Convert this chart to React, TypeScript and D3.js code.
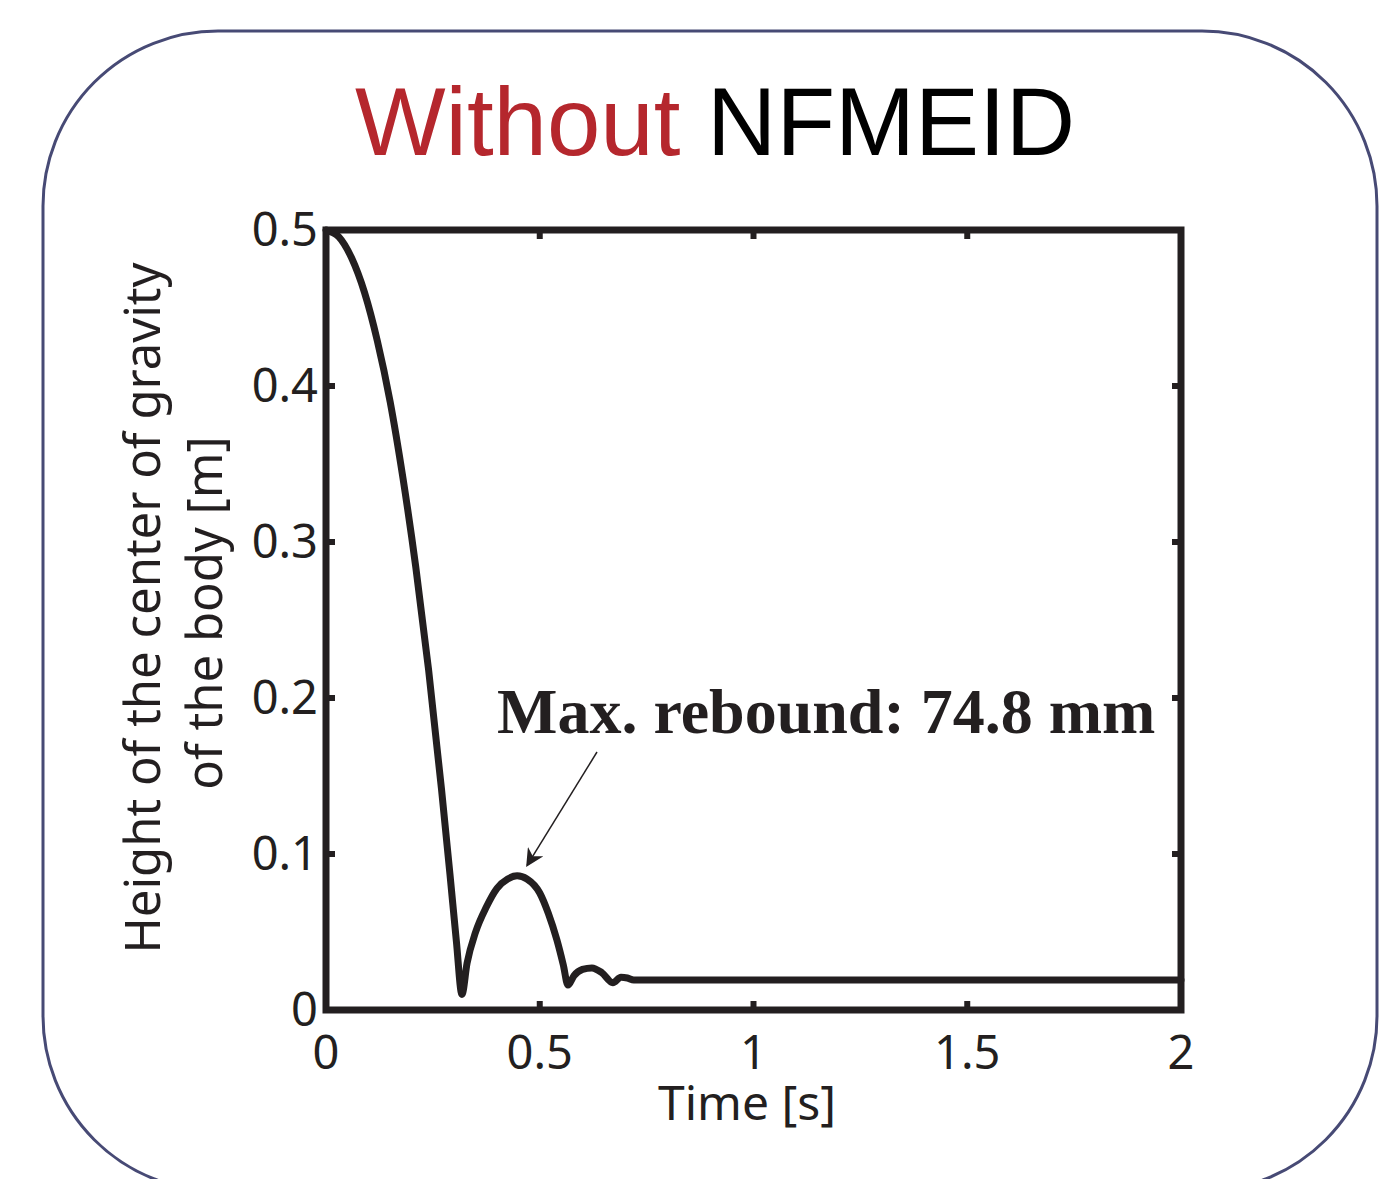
import React from "react";
import * as d3 from "d3";

const timeS = [0, 0.03, 0.06, 0.09, 0.12, 0.15, 0.18, 0.21, 0.24, 0.27, 0.29, 0.305, 0.318, 0.33, 0.35, 0.375, 0.4, 0.425, 0.447, 0.47, 0.5, 0.52, 0.54, 0.555, 0.566, 0.58, 0.6, 0.622, 0.645, 0.671, 0.69, 0.705, 0.72, 0.75, 1.0, 1.5, 2.0];
const heightM = [0.5, 0.4956, 0.482, 0.46, 0.429, 0.39, 0.341, 0.284, 0.218, 0.142, 0.087, 0.044, 0.01, 0.03, 0.05, 0.066, 0.078, 0.084, 0.086, 0.084, 0.075, 0.062, 0.045, 0.029, 0.016, 0.022, 0.026, 0.027, 0.024, 0.0175, 0.021, 0.0205, 0.0192, 0.0192, 0.0192, 0.0192, 0.0192];
const xTicks = [0, 0.5, 1, 1.5, 2];
const xTickLabels = ["0", "0.5", "1", "1.5", "2"];
const yTicks = [0, 0.1, 0.2, 0.3, 0.4, 0.5];
const yTickLabels = ["0", "0.1", "0.2", "0.3", "0.4", "0.5"];
const titleParts = ["Without", "NFMEID"];
const annotation = "Max. rebound: 74.8 mm";
const annotationPoint = { t: 0.447, h: 0.085 };
const xLabel = "Time [s]";
const yLabelLines = ["Height of the center of gravity", "of the body [m]"];

const INK = "#231f20";
const TICKFONT = "'Noto Sans', 'Open Sans', sans-serif";

export default function App() {
  const L = 326, R = 1181, T = 230, B = 1010;
  const x = d3.scaleLinear().domain([0, 2]).range([L, R]);
  const y = d3.scaleLinear().domain([0, 0.5]).range([B, T]);
  const pts = timeS.map((t, i) => [t, heightM[i]] as [number, number]);
  const line = d3.line<[number, number]>().x(d => x(d[0])).y(d => y(d[1])).curve(d3.curveMonotoneX);
  const tickLen = 9;

  const ax2 = x(annotationPoint.t) + 10, ay2 = y(annotationPoint.h) - 12;
  const ax1 = 597, ay1 = 752;

  return (
    <svg width={1400} height={1179} style={{ position: "absolute", left: 0, top: 0, background: "#fff" }}>
      <defs>
        <marker id="arr" viewBox="0 0 10 10" refX="9" refY="5" markerWidth="18" markerHeight="18" markerUnits="userSpaceOnUse" orient="auto">
          <path d="M0,0 L10,5 L0,10 L3,5 Z" fill={INK} />
        </marker>
      </defs>
      <rect x={43} y={31} width={1334} height={1160} rx={175} ry={175} fill="none" stroke="#474a75" strokeWidth={3} />
      <text x={715} y={155} textAnchor="middle" fontFamily="'Liberation Sans', Arial, sans-serif" fontSize={96}>
        <tspan fill="#b5272d">{titleParts[0]}</tspan>
        <tspan fill="#000"> {titleParts[1]}</tspan>
      </text>

      {xTicks.map((t, i) => (
        <g key={"xt" + i}>
          <line x1={x(t)} x2={x(t)} y1={B} y2={B - tickLen} stroke={INK} strokeWidth={6} />
          <line x1={x(t)} x2={x(t)} y1={T} y2={T + tickLen} stroke={INK} strokeWidth={6} />
          <text x={x(t)} y={1069} textAnchor="middle" fontFamily={TICKFONT} fontSize={47} fill={INK}>{xTickLabels[i]}</text>
        </g>
      ))}
      {yTicks.map((v, i) => (
        <g key={"yt" + i}>
          <line x1={L} x2={L + tickLen} y1={y(v)} y2={y(v)} stroke={INK} strokeWidth={6} />
          <line x1={R} x2={R - tickLen} y1={y(v)} y2={y(v)} stroke={INK} strokeWidth={6} />
          <text x={318} y={y(v) + 16} textAnchor="end" fontFamily={TICKFONT} fontSize={47} fill={INK}>{yTickLabels[i]}</text>
        </g>
      ))}

      <path d={line(pts) || ""} fill="none" stroke={INK} strokeWidth={7} strokeLinejoin="round" strokeLinecap="round" />
      <rect x={L} y={T} width={R - L} height={B - T} fill="none" stroke={INK} strokeWidth={7} />

      <text x={747} y={1120} textAnchor="middle" fontFamily={TICKFONT} fontSize={48} fill={INK}>{xLabel}</text>
      <text transform={`translate(160,608) rotate(-90)`} textAnchor="middle" fontFamily={TICKFONT} fontSize={49} fill={INK}>{yLabelLines[0]}</text>
      <text transform={`translate(222,613) rotate(-90)`} textAnchor="middle" fontFamily={TICKFONT} fontSize={49} fill={INK}>{yLabelLines[1]}</text>

      <text x={497} y={733} fontFamily="'Liberation Serif', 'Times New Roman', serif" fontWeight="bold" fontSize={64} fill={INK}>{annotation}</text>
      <line x1={ax1} y1={ay1} x2={ax2} y2={ay2} stroke={INK} strokeWidth={1.5} markerEnd="url(#arr)" />
    </svg>
  );
}
